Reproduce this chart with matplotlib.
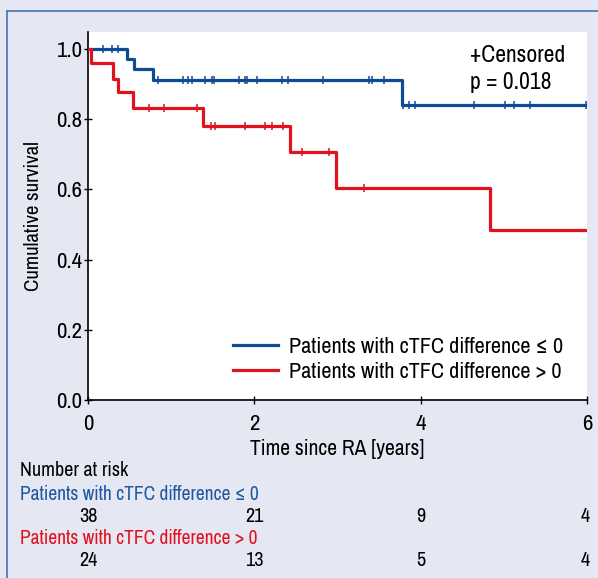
import numpy as np
import matplotlib
matplotlib.use('Agg')
import matplotlib.pyplot as plt

plt.rcParams['font.family'] = ['Archivo Narrow', 'DejaVu Sans']

# ── Kaplan-Meier steps ───────────────────────────────────────────────────────
BLUE_T = [0.0, 0.465, 0.556, 0.785, 3.77, 6.0]
BLUE_S = [1.0, 0.971, 0.942, 0.912, 0.840, 0.840]
BLUE_CENS_T = [0.177, 0.285, 0.357,
               0.838, 1.145, 1.206, 1.246, 1.406, 1.487, 1.518, 1.818, 1.887,
               1.915, 2.035, 2.335, 2.407, 2.821, 3.377, 3.41, 3.558,
               3.79, 3.862, 3.93, 4.64, 5.01, 5.12, 5.31, 5.99]

RED_T = [0.0, 0.036, 0.304, 0.357, 0.537, 1.379, 2.428, 2.981, 4.832, 6.0]
RED_S = [1.0, 0.959, 0.913, 0.877, 0.831, 0.781, 0.705, 0.603, 0.484, 0.484]
RED_CENS_T = [0.733, 0.917, 1.306,
              1.478, 1.526, 1.887, 2.127, 2.215, 2.34,
              2.568, 2.9, 3.317]

RISK_TIMES = [0, 2, 4, 6]
RISK_BLUE = [38, 21, 9, 4]
RISK_RED = [24, 13, 5, 4]

LABEL_BLUE = 'Patients with cTFC difference \u2264 0'
LABEL_RED = 'Patients with cTFC difference > 0'

BLUE = '#0d4c95'
RED = '#e2111e'
BG = '#e5e8f3'


def surv_at(ts, ss, t):
    idx = np.searchsorted(ts, t, side='right') - 1
    return ss[max(idx, 0)]


W, H = 598, 578
fig = plt.figure(figsize=(W / 100, H / 100), dpi=100, facecolor=BG)

def px(x, y):
    return x / W, 1 - y / H

# frame lines (left and top)
fig.add_artist(plt.Line2D([7 / W, 7 / W], [0, 1 - 11 / H], color='#3f72b3', lw=1.2,
                          transform=fig.transFigure))
fig.add_artist(plt.Line2D([7 / W, 1], [1 - 11 / H, 1 - 11 / H], color='#3f72b3', lw=1.2,
                          transform=fig.transFigure))

ax = fig.add_axes([88 / W, 1 - 400 / H, (587 - 88) / W, (400 - 32) / H])
ax.set_facecolor('white')

ax.step(BLUE_T, BLUE_S, where='post', color=BLUE, lw=2.3, label=LABEL_BLUE, zorder=3)
ax.step(RED_T, RED_S, where='post', color=RED, lw=2.3, label=LABEL_RED, zorder=3)

bc = [surv_at(BLUE_T, BLUE_S, t) for t in BLUE_CENS_T]
rc = [surv_at(RED_T, RED_S, t) for t in RED_CENS_T]
ax.plot(BLUE_CENS_T, bc, ls='none', marker='|', ms=5.5, mew=1.1, color=BLUE, zorder=4)
ax.plot(RED_CENS_T, rc, ls='none', marker='|', ms=5.5, mew=1.1, color=RED, zorder=4)

ax.set_xlim(0, 6)
ax.set_ylim(0, 1.048)
ax.set_xticks([0, 2, 4, 6])
ax.set_yticks([0, 0.2, 0.4, 0.6, 0.8, 1.0])
ax.set_yticklabels(['0.0', '0.2', '0.4', '0.6', '0.8', '1.0'])
ax.tick_params(direction='inout', length=6, width=1, labelsize=16.5, pad=1)
ax.tick_params(axis='x', pad=7)
for s in ['top', 'right']:
    ax.spines[s].set_visible(False)
for s in ['left', 'bottom']:
    ax.spines[s].set_linewidth(1.2)

ax.set_ylabel('Cumulative survival', fontsize=15, labelpad=10)
ax.set_xlabel('Time since RA [years]', fontsize=15.5, labelpad=4)

ax.legend(loc='lower right', bbox_to_anchor=(0.97, 0.025), frameon=False,
          fontsize=16, handlelength=2.0, handletextpad=0.5, labelspacing=0.22,
          borderaxespad=0)

ax.text(0.765, 0.935, '+Censored', transform=ax.transAxes, fontsize=17,
        ha='left', va='center')
ax.text(0.765, 0.862, 'p = 0.018', transform=ax.transAxes, fontsize=17,
        ha='left', va='center')

# number at risk table
fs = 14.5
fig.text(*px(20, 471), 'Number at risk', fontsize=fs, va='center', ha='left')
fig.text(*px(20, 494), LABEL_BLUE, fontsize=14, va='center', ha='left', color='#1f57a0')
fig.text(*px(20, 539), LABEL_RED, fontsize=14, va='center', ha='left', color=RED)
offs = [0, 0, 0, -2]
for t, nb, nr, o in zip(RISK_TIMES, RISK_BLUE, RISK_RED, offs):
    xf = ax.transData.transform((t, 0))[0] / fig.bbox.width + o / W
    fig.text(xf, 1 - 516 / H, str(nb), fontsize=fs, ha='center', va='center')
    fig.text(xf, 1 - 561 / H, str(nr), fontsize=fs, ha='center', va='center')

fig.savefig('out.png', dpi=100, facecolor=BG)
